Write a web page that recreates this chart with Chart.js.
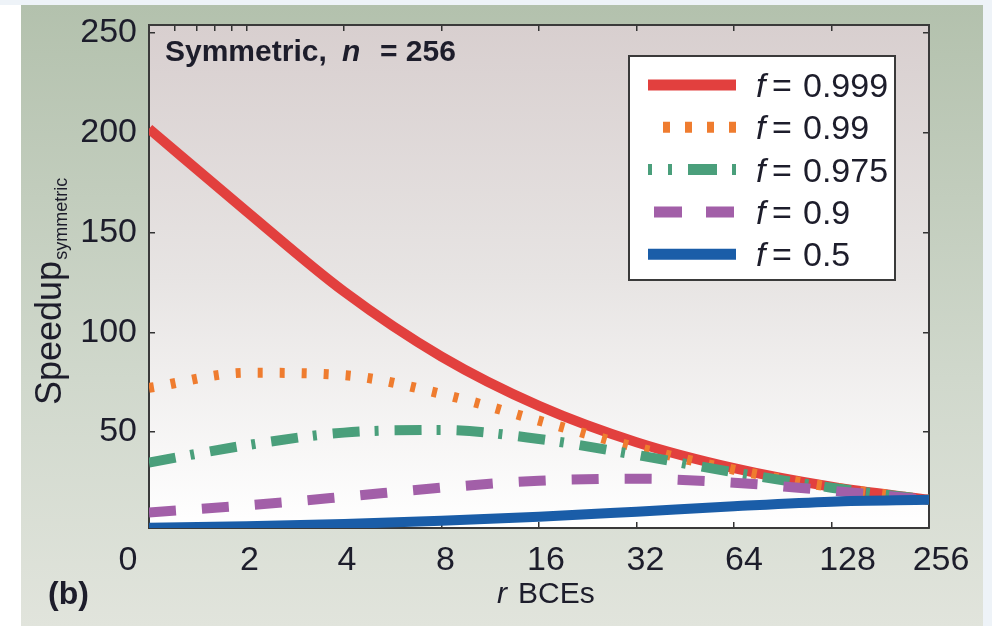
<!DOCTYPE html>
<html><head><meta charset="utf-8">
<script src="https://cdn.jsdelivr.net/npm/chart.js@4/dist/chart.umd.min.js"></script>
<style>html,body{margin:0;padding:0;background:#fff;overflow:hidden}canvas{display:block}</style>
</head><body>
<canvas id="c" width="992" height="626"></canvas>
<script>
// ---- data ----
const rValues = [1, 2, 4, 8, 16, 32, 64, 128, 256];
const xTickLabels = ['0', '2', '4', '8', '16', '32', '64', '128', '256'];
const xTopTicks = [1.2, 1.4, 1.6, 1.8, 2, 4, 8, 16, 32, 64, 128];
const yTicks = [50, 100, 150, 200, 250];
const seriesLabels = ['f = 0.999', 'f = 0.99', 'f = 0.975', 'f = 0.9', 'f = 0.5'];
const speedupF999 = [202, 160.6, 120.4, 87.8, 63.1, 44.9, 31.9, 22.6, 16];
const speedupF99  = [72.1, 79.7, 78.5, 69.1, 55.7, 42.3, 31.1, 22.4, 16];
const speedupF975 = [34.7, 43.4, 49.7, 51.0, 46.5, 38.5, 29.8, 22.1, 16];
const speedupF9   = [9.7, 13.2, 17.5, 22.1, 25.6, 26.6, 24.6, 20.6, 16];
const speedupF5   = [2.0, 2.8, 3.9, 5.5, 7.5, 10.1, 12.8, 15.1, 16];
const titleText = ['Symmetric,', 'n', '= 256'];
const xTitle = ['r', 'BCEs'];
const yTitle = ['Speedup', 'symmetric'];
const panelTag = '(b)';

// ---- styles ----
const FONT = "'Liberation Sans', Arial, sans-serif";
const TXT = '#1d1d2b';
const xLabelShift = [-21, 3, 3, 4, 7, 9, 10, 16, 12];
const styles = [
  {color: '#e2403e', dash: [], width: 10, legendDash: [], legendOffset: 0},
  {color: '#ef7c2f', dash: [5, 17], width: 10, legendDash: [7, 15], legendOffset: 7},
  {color: '#4a9f7b', dash: [27, 15, 4, 16], width: 10, legendDash: [4, 16, 4, 16, 29, 15], legendOffset: 0},
  {color: '#a25fa8', dash: [27, 26], width: 10, legendDash: [28, 24], legendOffset: 46},
  {color: '#1a5da8', dash: [], width: 10, legendDash: [], legendOffset: 0}
];
const seriesValues = [speedupF999, speedupF99, speedupF975, speedupF9, speedupF5];

const datasets = seriesValues.map((vals, i) => ({
  label: seriesLabels[i],
  data: rValues.map((r, j) => ({x: r, y: vals[j]})),
  borderColor: styles[i].color,
  backgroundColor: styles[i].color,
  borderWidth: styles[i].width,
  borderDash: styles[i].dash,
  borderCapStyle: 'butt',
  pointRadius: 0,
  fill: false,
  cubicInterpolationMode: 'monotone',
  order: seriesValues.length - i
}));

const backdrop = {
  id: 'backdrop',
  beforeDraw(chart) {
    const {ctx, chartArea: a, width, height} = chart;
    ctx.save();
    ctx.fillStyle = '#ffffff';
    ctx.fillRect(0, 0, width, height);
    ctx.fillStyle = '#eef3f8';
    ctx.fillRect(0, 0, width, 5);
    ctx.fillRect(983, 0, width - 983, height);
    const pg = ctx.createLinearGradient(0, 5, 0, height);
    pg.addColorStop(0, '#b3c1ad');
    pg.addColorStop(0.6, '#d0d8cc');
    pg.addColorStop(1, '#e1e4dc');
    ctx.fillStyle = pg;
    ctx.fillRect(21, 5, 962, height - 5);
    const ag = ctx.createLinearGradient(0, a.top, 0, a.bottom);
    ag.addColorStop(0, '#d8cfcf');
    ag.addColorStop(0.5, '#e7e4e3');
    ag.addColorStop(1, '#ffffff');
    ctx.fillStyle = ag;
    ctx.fillRect(a.left, a.top, a.right - a.left, a.bottom - a.top);
    ctx.restore();
  }
};

const annotations = {
  id: 'annotations',
  afterDraw(chart) {
    const {ctx} = chart;
    ctx.save();
    ctx.fillStyle = TXT;
    ctx.textBaseline = 'alphabetic';
    ctx.textAlign = 'left';
    // title
    ctx.font = 'bold 30px ' + FONT;
    ctx.fillText(titleText[0], 165, 61);
    ctx.font = 'italic bold 30px ' + FONT;
    ctx.fillText(titleText[1], 342, 61);
    ctx.font = 'bold 30px ' + FONT;
    ctx.fillText(titleText[2], 380, 61);
    // panel tag
    ctx.font = 'bold 32px ' + FONT;
    ctx.fillText(panelTag, 48, 604);
    // x title
    ctx.font = 'italic 30px ' + FONT;
    ctx.fillText(xTitle[0], 497, 603);
    ctx.font = '30px ' + FONT;
    ctx.fillText(xTitle[1], 518, 603);
    // x tick labels, placed at the scale's tick pixels
    const xs = chart.scales.x;
    ctx.font = '34px ' + FONT;
    ctx.textAlign = 'center';
    rValues.forEach((r, i) => {
      ctx.fillText(xTickLabels[i], xs.getPixelForValue(r) + xLabelShift[i], 570);
    });
    ctx.textAlign = 'left';
    // y title
    ctx.save();
    ctx.translate(61, 405);
    ctx.rotate(-Math.PI / 2);
    ctx.font = '36px ' + FONT;
    ctx.fillText(yTitle[0], 0, 0);
    const w = ctx.measureText(yTitle[0]).width;
    ctx.font = '18px ' + FONT;
    ctx.fillText(yTitle[1], w + 1, 6);
    ctx.restore();

    // legend
    const bx = 629, by = 56, bw = 266, bh = 224;
    ctx.fillStyle = '#ffffff';
    ctx.fillRect(bx, by, bw, bh);
    ctx.strokeStyle = '#3a3a3a';
    ctx.lineWidth = 2;
    ctx.strokeRect(bx, by, bw, bh);
    chart.data.datasets.forEach((ds, i) => {
      const y = 85 + i * 42.3;
      const st = styles[i];
      ctx.beginPath();
      ctx.setLineDash(st.legendDash);
      ctx.lineDashOffset = st.legendOffset;
      ctx.lineCap = 'butt';
      ctx.strokeStyle = ds.borderColor;
      ctx.lineWidth = 11;
      ctx.moveTo(648, y);
      ctx.lineTo(736, y);
      ctx.stroke();
      ctx.setLineDash([]);
      const parts = ds.label.split(' = ');
      ctx.fillStyle = TXT;
      ctx.font = 'italic 34px ' + FONT;
      ctx.fillText(parts[0], 756, y + 12);
      ctx.font = '34px ' + FONT;
      ctx.fillText('=', 772, y + 12);
      ctx.fillText(parts[1], 803, y + 12);
    });
    ctx.restore();
  }
};

const axisGrid = {display: true, drawOnChartArea: false, drawTicks: true, tickLength: -6, color: '#333333', lineWidth: 1.5};
const axisBorder = {display: true, color: '#3a3a3a', width: 2};
const noPad = s => { s.paddingTop = 0; s.paddingBottom = 0; s.paddingLeft = 0; s.paddingRight = 0; };

new Chart(document.getElementById('c'), {
  type: 'line',
  data: {datasets},
  options: {
    responsive: false,
    animation: false,
    devicePixelRatio: 1,
    events: [],
    layout: {padding: {left: 21, top: 0, right: 0, bottom: 0}},
    plugins: {legend: {display: false}, tooltip: {enabled: false}},
    scales: {
      x: {
        type: 'logarithmic', position: 'bottom', min: 1, max: 256,
        afterBuildTicks: s => { s.ticks = rValues.map(v => ({value: v})); },
        afterFit: s => { s.height = 98; noPad(s); },
        ticks: {display: false},
        grid: axisGrid, border: axisBorder
      },
      x2: {
        type: 'logarithmic', position: 'top', min: 1, max: 256,
        afterBuildTicks: s => { s.ticks = xTopTicks.map(v => ({value: v})); },
        afterFit: s => { s.height = 25; noPad(s); },
        ticks: {display: false},
        grid: axisGrid, border: axisBorder
      },
      y: {
        type: 'linear', position: 'left', min: 1.9, max: 254,
        afterBuildTicks: s => { s.ticks = yTicks.map(v => ({value: v})); },
        afterFit: s => { s.width = 128; noPad(s); },
        ticks: {font: {family: FONT, size: 34}, color: TXT, padding: 18},
        grid: axisGrid, border: axisBorder
      },
      y2: {
        type: 'linear', position: 'right', min: 1.9, max: 254,
        afterBuildTicks: s => { s.ticks = yTicks.map(v => ({value: v})); },
        afterFit: s => { s.width = 63; noPad(s); },
        ticks: {display: false},
        grid: axisGrid, border: axisBorder
      }
    }
  },
  plugins: [backdrop, annotations]
});
</script>
</body></html>
